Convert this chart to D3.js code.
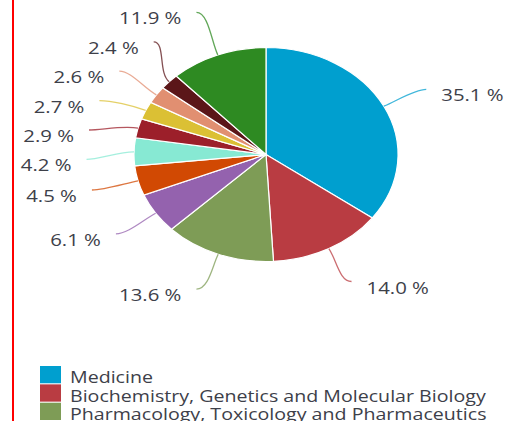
<!DOCTYPE html>
<html>
<head>
<meta charset="utf-8">
<script src="https://cdn.jsdelivr.net/npm/d3@7"></script>
<style>
  body { margin: 0; background: #fff; }
  text { font-family: "Open Sans", sans-serif; fill: #3d4049; }
</style>
</head>
<body>
<div class="grafico"></div>
<script>
// porcentajes por area, en el orden del reloj desde arriba
var shares = [35.1, 14.0, 13.6, 6.1, 4.5, 4.2, 2.9, 2.7, 2.6, 2.4, 11.9];
var colores = ['#009fcf', '#b93c42', '#7e9c56', '#9462ae', '#d14903', '#87e9d3',
               '#9c1f2a', '#dbc034', '#e18f71', '#5b1619', '#2e8a22'];
var etiquetas = shares.map(function (v) { return v.toFixed(1) + ' %'; });
// solo se ven las tres primeras filas de la leyenda
var leyendaNombres = ['Medicine', 'Biochemistry, Genetics and Molecular Biology',
                      'Pharmacology, Toxicology and Pharmaceutics'];

var W = 519, H = 421;
var cx = 266, cy = 154.5, r = 107, sx = 1.234;   // la imagen esta estirada en x
var rx = r * sx, ry = r;
var Rx = rx * 1.36, Ry = ry * 1.35, gap = 29.4;

var svg = d3.select('.grafico')
  .append('svg')
  .attr('width', W)
  .attr('height', H);

svg.append('line')
  .attr('x1', 13).attr('x2', 13)
  .attr('y1', 0).attr('y2', H)
  .attr('stroke', '#ff0000')
  .attr('stroke-width', 2);

var pie = d3.pie().sort(null).value(function (d) { return d; });
var arcs = pie(shares);
var arc = d3.arc().innerRadius(0).outerRadius(r);

svg.append('g')
  .attr('transform', 'translate(' + cx + ',' + cy + ') scale(' + sx + ',1)')
  .selectAll('path')
  .data(arcs)
  .enter()
  .append('path')
  .attr('d', arc)
  .attr('fill', function (d, i) { return colores[i]; })
  .attr('stroke', '#fff')
  .attr('stroke-width', 1.2)
  .attr('vector-effect', 'non-scaling-stroke');

// posiciones de etiquetas
var labels = arcs.map(function (d, i) {
  var a = (d.startAngle + d.endAngle) / 2;
  return {
    i: i, a: a,
    side: Math.sin(a) < 0 ? 'left' : 'right',
    sx: cx + rx * Math.sin(a), sy: cy - ry * Math.cos(a),
    y: cy - Ry * Math.cos(a)
  };
});

// separar etiquetas que se pisan (agrupando en bloques)
['left', 'right'].forEach(function (side) {
  var lado = labels.filter(function (l) { return l.side === side; })
    .sort(function (a, b) { return a.y - b.y; });
  var bloques = [];
  lado.forEach(function (l) {
    bloques.push({ items: [l], p: l.y });
    while (bloques.length > 1) {
      var ult = bloques[bloques.length - 1], prev = bloques[bloques.length - 2];
      var finPrev = prev.p + (prev.items.length - 1) * gap;
      if (ult.p - finPrev >= gap) break;
      var todos = prev.items.concat(ult.items);
      var suma = 0;
      todos.forEach(function (it, k) { suma += it.y - k * gap; });
      bloques.splice(bloques.length - 2, 2, { items: todos, p: suma / todos.length });
    }
  });
  bloques.forEach(function (b) {
    b.items.forEach(function (it, k) { it.ly = b.p + k * gap; });
  });
});

labels.forEach(function (l) {
  var t = (l.ly - cy) / Ry;
  var f = Math.sqrt(Math.max(1 - t * t, 0.15));
  l.ex = l.side === 'left' ? cx - Rx * f : cx + Rx * f;
  l.ey = l.ly;
});

svg.append('g')
  .selectAll('path')
  .data(labels)
  .enter()
  .append('path')
  .attr('d', function (l) {
    var ux = Math.sin(l.a) * sx, uy = -Math.cos(l.a);
    var n = Math.sqrt(ux * ux + uy * uy);
    var dir = l.side === 'left' ? 1 : -1;
    var p = d3.path();
    p.moveTo(l.sx, l.sy);
    p.bezierCurveTo(l.sx + ux / n * 14, l.sy + uy / n * 14, l.ex + dir * 12, l.ey, l.ex, l.ey);
    return p.toString();
  })
  .attr('fill', 'none')
  .attr('stroke', function (l) { return colores[l.i]; })
  .attr('stroke-opacity', 0.75)
  .attr('stroke-width', 1.3);

svg.append('g')
  .selectAll('text')
  .data(labels)
  .enter()
  .append('text')
  .attr('transform', function (l) {
    var x = l.side === 'left' ? l.ex - 15 : l.ex + 15;
    return 'translate(' + x + ',' + (l.ey + 12) + ') scale(' + sx + ',1)';
  })
  .attr('text-anchor', function (l) { return l.side === 'left' ? 'end' : 'start'; })
  .style('font-size', '16.5px')
  .text(function (l) { return etiquetas[l.i]; });

// leyenda
var yLey = d3.scaleBand()
  .domain(leyendaNombres)
  .range([366, 366 + 18 * leyendaNombres.length])
  .paddingInner(0.06);

var filas = svg.append('g')
  .selectAll('g')
  .data(leyendaNombres)
  .enter()
  .append('g');

filas.append('rect')
  .attr('x', 40)
  .attr('y', function (d) { return yLey(d); })
  .attr('width', 21)
  .attr('height', yLey.bandwidth())
  .attr('fill', function (d, i) { return colores[i]; });

filas.append('text')
  .attr('transform', function (d) {
    return 'translate(70,' + (yLey(d) + yLey.bandwidth()) + ') scale(' + sx + ',1)';
  })
  .style('font-size', '15.9px')
  .text(function (d) { return d; });
</script>
</body>
</html>
